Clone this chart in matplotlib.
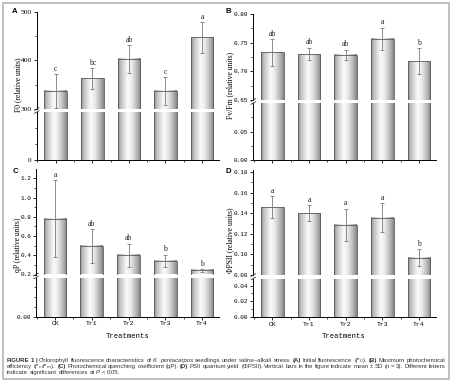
import matplotlib
matplotlib.use("Agg")
import matplotlib.pyplot as plt
import numpy as np
from matplotlib.ticker import FixedLocator, FormatStrFormatter
from matplotlib.lines import Line2D
from matplotlib.patches import Rectangle

# ---------------- data ----------------
treatments = ["CK", "Tr1", "Tr2", "Tr3", "Tr4"]

f0_mean = [337, 363, 403, 337, 447]
f0_sd = [35, 21, 28, 29, 31]
f0_letters = ["c", "bc", "ab", "c", "a"]

fvfm_mean = [0.733, 0.730, 0.729, 0.757, 0.718]
fvfm_sd = [0.023, 0.011, 0.009, 0.019, 0.022]
fvfm_letters = ["ab", "ab", "ab", "a", "b"]

qp_mean = [0.78, 0.495, 0.40, 0.342, 0.242]
qp_sd = [0.40, 0.175, 0.12, 0.065, 0.012]
qp_letters = ["a", "ab", "ab", "b", "b"]

phi_mean = [0.146, 0.140, 0.129, 0.1355, 0.097]
phi_sd = [0.0105, 0.008, 0.0155, 0.014, 0.0078]
phi_letters = ["a", "a", "a", "a", "b"]

W, H = 451, 382
DPI = 100
fig = plt.figure(figsize=(W / DPI, H / DPI), dpi=DPI)
fig.patch.set_facecolor("white")

SERIF = "Liberation Serif"
MONO = "Liberation Mono"


def fx(x):
    return x / W


def fy(y):
    return 1 - y / H


def make_axes(x0, x1, ytop, ybot):
    return fig.add_axes([fx(x0), fy(ybot), (x1 - x0) / W, (ybot - ytop) / H])


# gradient for cylindrical bars
stops_x = [0.0, 0.12, 0.42, 0.6, 0.85, 1.0]
stops_v = [0.55, 0.75, 0.98, 0.92, 0.70, 0.52]
gx = np.linspace(0, 1, 64)
grad = np.interp(gx, stops_x, stops_v)[None, :]

BAR_W = 0.62
XLIM = (-0.52, 4.45)


def draw_bars(ax, means):
    xs = np.arange(len(means))
    lo, hi = ax.get_ylim()
    bars = ax.bar(xs, means, width=BAR_W, color="none", edgecolor="#5a5a5a",
                  linewidth=0.6, zorder=3)
    for b in bars:
        x0 = b.get_x()
        y0 = max(0.0, lo)
        y1 = min(b.get_height(), hi)
        if y1 <= y0:
            continue
        ax.imshow(grad, cmap="gray", vmin=0, vmax=1, aspect="auto",
                  extent=(x0, x0 + b.get_width(), y0, y1),
                  zorder=2, interpolation="bilinear")
    ax.set_xlim(*XLIM)
    ax.set_ylim(lo, hi)
    return bars


def style_axis(ax):
    for s in ["top", "right"]:
        ax.spines[s].set_visible(False)
    ax.spines["left"].set_linewidth(0.7)
    ax.spines["bottom"].set_linewidth(0.7)
    ax.tick_params(axis="both", which="major", direction="out", length=2.2,
                   width=0.6, pad=1.2)
    ax.tick_params(axis="both", which="minor", direction="out", length=1.2,
                   width=0.5)
    ax.set_facecolor("none")


def panel(x0, x1, up_top, up_bot, lo_top, lo_bot, up_lim, lo_lim,
          means, sds, letters, up_major, up_minor, lo_major, lo_minor,
          fmt, tickfont, ticksize, show_xlabels):
    axu = make_axes(x0, x1, up_top, up_bot)
    axl = make_axes(x0, x1, lo_top, lo_bot)
    for ax, lim in ((axu, up_lim), (axl, lo_lim)):
        ax.set_ylim(*lim)
        style_axis(ax)
        draw_bars(ax, means)
    xs = np.arange(len(means))
    axu.errorbar(xs, means, yerr=sds, fmt="none", ecolor="#7a7a7a",
                 elinewidth=0.6, capsize=1.3, capthick=0.6, zorder=4)
    for x, m, s, t in zip(xs, means, sds, letters):
        axu.annotate(t, (x, m + s), xytext=(0, 1.0), textcoords="offset points",
                     ha="center", va="bottom", fontsize=5.6, family=SERIF,
                     color="#222222", annotation_clip=False)
    axu.spines["bottom"].set_visible(False)
    axu.tick_params(axis="x", which="both", bottom=False, labelbottom=False)
    axu.yaxis.set_major_locator(FixedLocator(up_major))
    axu.yaxis.set_minor_locator(FixedLocator(up_minor))
    axu.yaxis.set_major_formatter(FormatStrFormatter(fmt[0]))
    axl.yaxis.set_major_locator(FixedLocator(lo_major))
    axl.yaxis.set_minor_locator(FixedLocator(lo_minor))
    axl.yaxis.set_major_formatter(FormatStrFormatter(fmt[1]))
    axl.set_xticks(xs)
    axl.xaxis.set_minor_locator(FixedLocator(np.arange(-0.5, 4.6, 1.0)))
    if show_xlabels:
        axl.set_xticklabels(treatments, fontsize=4.6, family=MONO)
    else:
        axl.set_xticklabels([])
    for ax in (axu, axl):
        for lab in ax.get_yticklabels():
            lab.set_fontsize(ticksize)
            lab.set_family(tickfont)
    for yb in (up_bot, lo_top):
        fig.add_artist(Line2D([fx(x0 - 2.2), fx(x0 + 2.2)],
                              [fy(yb + 1.3), fy(yb - 1.3)],
                              transform=fig.transFigure, color="#333333",
                              lw=0.6))
    return axu, axl


# Panel A
panel(36.7, 218.5, 11.7, 109.0, 112.0, 160.0, (300, 500), (0, 300),
      f0_mean, f0_sd, f0_letters, [300, 400, 500], [350, 450], [0], [100, 200],
      ("%d", "%d"), SERIF, 5.4, False)
# Panel B
panel(253.3, 435.5, 14.0, 100.0, 103.0, 160.0, (0.65, 0.80), (0, 0.1),
      fvfm_mean, fvfm_sd, fvfm_letters, [0.65, 0.70, 0.75, 0.80],
      [0.675, 0.725, 0.775], [0.0, 0.05], [0.025, 0.075],
      ("%.2f", "%.2f"), MONO, 4.3, False)
# Panel C
panel(36.0, 218.5, 168.7, 274.5, 277.5, 316.7, (0.2, 1.3), (0, 0.2),
      qp_mean, qp_sd, qp_letters, [0.2, 0.4, 0.6, 0.8, 1.0, 1.2],
      [0.3, 0.5, 0.7, 0.9, 1.1], [0.0], [0.05, 0.1, 0.15],
      ("%.1f", "%.2f"), MONO, 4.3, True)
# Panel D
panel(253.3, 435.5, 170.0, 275.0, 278.5, 317.0, (0.08, 0.182), (0, 0.049),
      phi_mean, phi_sd, phi_letters, [0.08, 0.10, 0.12, 0.14, 0.16, 0.18],
      [0.09, 0.11, 0.13, 0.15, 0.17], [0.0, 0.02, 0.04], [0.01, 0.03],
      ("%.2f", "%.2f"), MONO, 4.3, True)

# y labels
ylab_kw = dict(rotation=90, ha="center", va="center", fontsize=5.5, family=SERIF)
fig.text(fx(18), fy(85), "F0 (relative units)", **ylab_kw)
fig.text(fx(230.5), fy(85), "Fv/Fm (relative units)", **ylab_kw)
fig.text(fx(17.5), fy(245), "qP (relative units)", **ylab_kw)
fig.text(fx(230.5), fy(240), "\u03a6PSII (relative units)", **ylab_kw)

# x labels
fig.text(fx(128), fy(336.7), "Treatments", ha="center", va="center",
         fontsize=5.2, family=MONO)
fig.text(fx(344), fy(336.0), "Treatments", ha="center", va="center",
         fontsize=5.2, family=MONO)

# panel letters
pl_kw = dict(ha="center", va="center", fontsize=5.6, fontweight="bold",
             family="Liberation Sans")
fig.text(fx(15), fy(11.7), "A", **pl_kw)
fig.text(fx(228.5), fy(11.7), "B", **pl_kw)
fig.text(fx(15), fy(171.5), "C", **pl_kw)
fig.text(fx(228.5), fy(171), "D", **pl_kw)

# border
fig.add_artist(Rectangle((fx(2.5), fy(379.0)), (446.0) / W, (376.5) / H,
                         transform=fig.transFigure, fill=False,
                         edgecolor="#b5b5b5", lw=1.2))

# caption
CAP_FONT = "Liberation Sans"
lines = [
    [("FIGURE 1 |", "bold", False),
     ("Chlorophyll fluorescence characteristics of", "normal", True),
     ("K. pentacarpos", "italic", True),
     ("seedlings under saline\u2013alkali stress.", "normal", True),
     ("(A)", "bold", True), ("Initial fluorescence ($F_0$).", "normal", True),
     ("(B)", "bold", True), ("Maximum photochemical", "normal", True)],
    [("efficiency ($F_v$/$F_m$).", "normal", False), ("(C)", "bold", True),
     ("Photochemical quenching coefficient (qP).", "normal", True),
     ("(D)", "bold", True),
     ("PSII quantum yield (\u03a6PSII). Vertical bars in the figure indicate mean \u00b1 SD (",
      "normal", True),
     ("n", "italic", False), ("= 3). Different letters", "normal", True)],
    [("indicate significant differences at", "normal", False),
     ("P", "italic", True), ("< 0.05.", "normal", True)],
]
line_y = [360.7, 366.7, 372.4]
renderer = fig.canvas.get_renderer()
X0_CAP = 7.0
X1_CAP = 445.0
CAP_SIZE = 4.3


def words_of(tokens):
    out = []
    for text, style, space in tokens:
        parts = text.split(" ")
        for j, p in enumerate(parts):
            if p == "":
                continue
            out.append((p, style, space if j == 0 else True))
    return out


def place_line(tokens, y, size, extra=0.0):
    arts = []
    x = X0_CAP
    sp = size * DPI / 72.0 * 0.278
    for text, style, space in words_of(tokens):
        kw = dict(fontsize=size, family=CAP_FONT, va="center", ha="left",
                  color="#333333")
        if style == "bold":
            kw["fontweight"] = "bold"
        elif style == "italic":
            kw["style"] = "italic"
        if space:
            x += sp + extra
        t = fig.text(fx(x), fy(y), text, **kw)
        arts.append(t)
        x += t.get_window_extent(renderer).width
    return arts, x


for i, (toks, y) in enumerate(zip(lines, line_y)):
    arts, xend = place_line(toks, y, CAP_SIZE)
    if i < 2:
        nsp = sum(1 for w in words_of(toks) if w[2])
        gap = X1_CAP - xend
        for a in arts:
            a.remove()
        place_line(toks, y, CAP_SIZE, extra=gap / nsp)

fig.savefig("out.png", dpi=DPI, facecolor="white")
